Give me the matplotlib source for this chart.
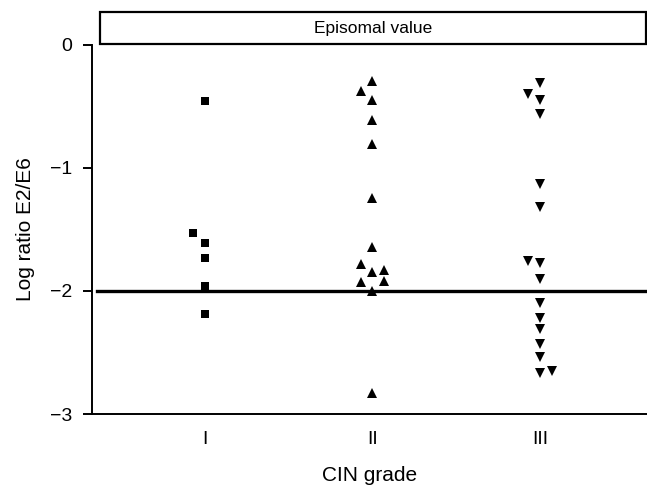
import matplotlib
matplotlib.use("Agg")
import matplotlib.pyplot as plt
from matplotlib.patches import Rectangle

plt.rcParams['font.family'] = ['Liberation Sans', 'DejaVu Sans']

# log ratio E2/E6 per CIN grade, with small horizontal shifts for overlapping points
grades = ['I', 'II', 'III']
grade1 = [-0.46, -1.53, -1.61, -1.73, -1.96, -2.19]
grade1_shift = [0, -1, 0, 0, 0, 0]
grade2 = [-0.30, -0.38, -0.45, -0.61, -0.81, -1.25, -1.64, -1.78, -1.85, -1.83,
          -1.93, -1.92, -2.00, -2.83]
grade2_shift = [0, -1, 0, 0, 0, 0, 0, -1, 0, 1, -1, 1, 0, 0]
grade3 = [-0.31, -0.40, -0.45, -0.56, -1.13, -1.32, -1.76, -1.77, -1.90, -2.10,
          -2.22, -2.31, -2.43, -2.54, -2.67, -2.65]
grade3_shift = [0, -1, 0, 0, 0, 0, -1, 0, 0, 0, 0, 0, 0, 0, 0, 1]
episomal_cutoff = -2.0

fig = plt.figure(figsize=(6.47, 4.86), dpi=100)
ax = fig.add_axes([0.1422, 0.148, 0.8578, 0.7604])

step = 0.07
series = [(grade1, grade1_shift, 's', 6.0),
          (grade2, grade2_shift, '^', 6.5),
          (grade3, grade3_shift, 'v', 6.5)]
for i, (vals, shifts, mk, ms) in enumerate(series):
    xs = [i + 1 + s * step for s in shifts]
    ax.plot(xs, vals, linestyle='none', marker=mk, markersize=ms,
            color='black', markeredgewidth=0)

ax.axhline(episomal_cutoff, xmin=0.009, xmax=1, color='black', lw=2.4)

ax.set_xlim(0.325, 3.64)
ax.set_ylim(-3, 0)
ax.set_yticks([0, -1, -2, -3])
ax.set_yticklabels(['0', '\u22121', '\u22122', '\u22123'])
ax.set_xticks([1, 2, 3])
ax.set_xticklabels(grades)

for side in ['top', 'right']:
    ax.spines[side].set_visible(False)
for side in ['left', 'bottom']:
    ax.spines[side].set_linewidth(1.4)

ax.tick_params(axis='y', direction='out', length=6.5, width=1.4, labelsize=14, pad=7.5)
ax.tick_params(axis='x', length=0, labelsize=14, pad=12)

ax.set_xlabel('CIN grade', fontsize=15, labelpad=13)
ax.set_ylabel('Log ratio E2/E6', fontsize=15, labelpad=11)

# header box above the plot
box = Rectangle((100 / 647, 1 - 44 / 486), (646 - 100) / 647, 32 / 486,
                transform=fig.transFigure, fill=False, edgecolor='black', lw=1.6)
fig.patches.append(box)
fig.text(373 / 647, 1 - 28 / 486, 'Episomal value', ha='center', va='center', fontsize=12.5)

fig.savefig('out.png', dpi=100)
